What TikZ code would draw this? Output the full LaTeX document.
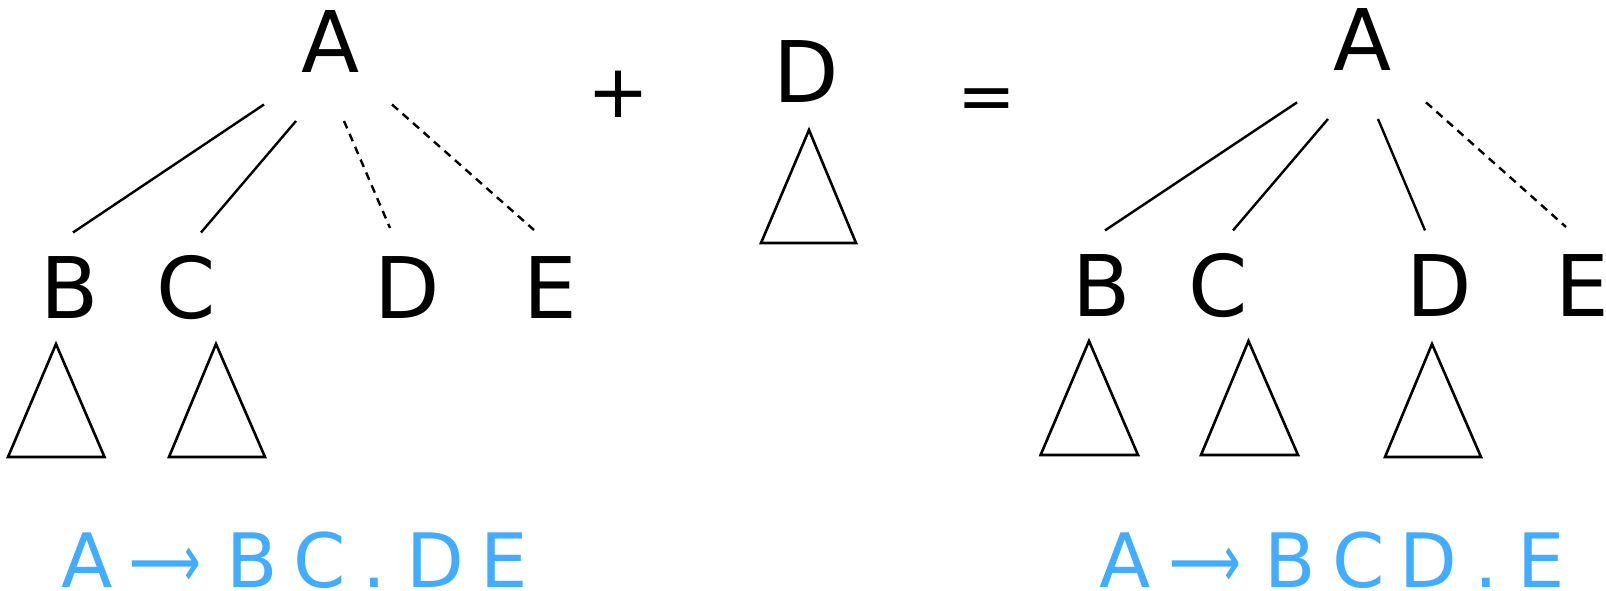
\documentclass[tikz,border=0pt]{standalone}
\usepackage{graphicx}
\usepackage{fontspec}
\setmainfont{DejaVu Sans}
\definecolor{lblue}{HTML}{42ACFF}
\newcommand{\gp}[1]{\hspace{#1bp}}
\newcommand{\rarr}{\scalebox{0.667}[1]{⟶}}
\begin{document}
\begin{tikzpicture}[x=1bp,y=-1bp,
  sym/.style={inner sep=0pt,outer sep=0pt,anchor=base,font=\fontsize{85bp}{90bp}\selectfont},
  opsym/.style={inner sep=0pt,outer sep=0pt,anchor=base,font=\fontsize{#1bp}{80bp}\selectfont},
  edge/.style={line width=2.4bp},
  dedge/.style={line width=2.4bp,dash pattern=on 8bp off 6bp},
  tri/.style={line width=2.6bp,line join=miter},
  rulelbl/.style={inner sep=0pt,outer sep=0pt,anchor=base west,text=lblue,font=\fontsize{75bp}{80bp}\selectfont}]
\useasboundingbox (0,0) rectangle (1606,591);

% ---------- left tree ----------
\node[sym] (lA) at (331,73) {A};
\node[sym] (lB) at (70,318.5) {B};
\node[sym] (lC) at (186,318.5) {C};
\node[sym] (lD) at (407,318.5) {D};
\node[sym] (lE) at (550,318.5) {E};

\coordinate (l1s) at (264,104.5); \coordinate (l1e) at (73,232.5);
\coordinate (l2s) at (296,121);   \coordinate (l2e) at (201,232.5);
\coordinate (l3s) at (344,121);   \coordinate (l3e) at (390,228);
\coordinate (l4s) at (392,104.5); \coordinate (l4e) at (534,230);
\draw[edge] (l1s) -- (l1e);
\draw[edge] (l2s) -- (l2e);
\draw[dedge] (l3s) -- (l3e);
\draw[dedge] (l4s) -- (l4e);

\draw[tri] (56,344) -- (104.5,457) -- (8,457) -- cycle;
\draw[tri] (216,344) -- (265,457) -- (169,457) -- cycle;

% ---------- plus, D, equals ----------
\node[opsym=74] (plus) at (618.6,117.6) {+};
\node[sym] (mD) at (806,103) {D};
\draw[tri] (809,130) -- (856,243) -- (761,243) -- cycle;
\node[opsym=70] (eq) at (987,120.8) {=};

% ---------- right tree ----------
\node[sym] (rA) at (1363,70.7) {A};
\node[sym] (rB) at (1102,316.5) {B};
\node[sym] (rC) at (1218,316.5) {C};
\node[sym] (rD) at (1439.5,316.5) {D};
\node[sym] (rE) at (1582.5,316.5) {E};

\coordinate (r1s) at (1297,102.4); \coordinate (r1e) at (1105,230.4);
\coordinate (r2s) at (1328,119);   \coordinate (r2e) at (1233,230.4);
\coordinate (r3s) at (1378,119);   \coordinate (r3e) at (1425,230.4);
\coordinate (r4s) at (1426,102.4); \coordinate (r4e) at (1566,227);
\draw[edge] (r1s) -- (r1e);
\draw[edge] (r2s) -- (r2e);
\draw[edge] (r3s) -- (r3e);
\draw[dedge] (r4s) -- (r4e);

\draw[tri] (1089,341) -- (1138,455) -- (1040.6,455) -- cycle;
\draw[tri] (1248.5,341) -- (1298,455) -- (1201,455) -- cycle;
\draw[tri] (1432,344) -- (1481,457) -- (1385,457) -- cycle;

% ---------- rules ----------
\node[rulelbl] (lrule) at (61,587) {A\gp{17}\rarr\gp{25}B\gp{16.5}C\gp{16}.\gp{20}D\gp{17}E};
\node[rulelbl] (rrule) at (1099.5,587) {A\gp{18.7}\rarr\gp{23}B\gp{16.5}C\gp{14.6}D\gp{17.6}.\gp{18.8}E};
\end{tikzpicture}
\end{document}
